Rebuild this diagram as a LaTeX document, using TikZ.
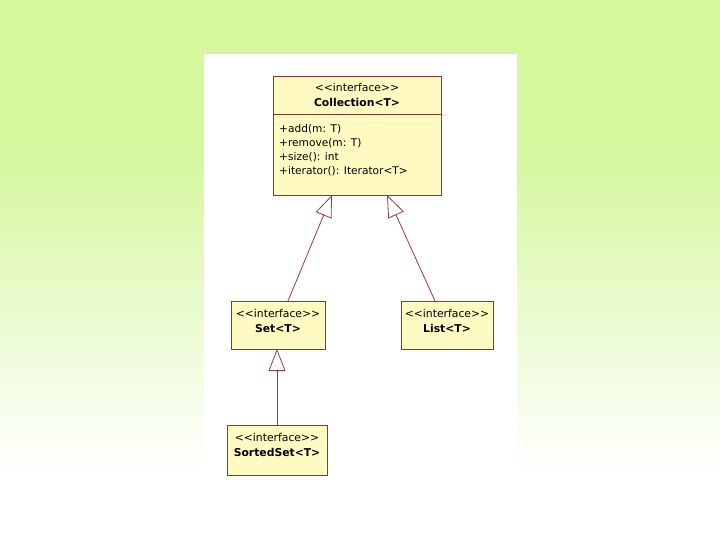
\documentclass[tikz,border=0pt]{standalone}
\usepackage{fontspec}
\setmainfont{DejaVu Sans}[Ligatures=TeXOff]
\usepackage{tikz}
\usetikzlibrary{positioning,arrows.meta,calc}
\definecolor{bggreen} {HTML}{D5F79D}
\definecolor{boxfill} {HTML}{FFFAC2}
\definecolor{boxline} {HTML}{8A3A2C}
\definecolor{genline} {HTML}{9A3A48}
\tikzset{
  % --- nodes
  iface/.style = {rectangle, draw=boxline, fill=boxfill, line width=0.9pt,
                  inner sep=0pt, outer sep=0pt},
  stereo/.style= {align=center, inner sep=0pt,
                  font=\fontsize{10.8}{15}\selectfont},
  ops/.style   = {align=left, inner sep=0pt,
                  font=\fontsize{10.6}{14}\selectfont},
  % --- edges
  gen/.style   = {draw=genline, line width=0.8pt,
                  -{Triangle[length=22pt,width=17pt,fill=white]}},
}

\begin{document}
\begin{tikzpicture}[x=1pt,y=-1pt]
  \useasboundingbox (0,0) rectangle (720,540);
  % background
  \fill[bggreen] (0,0) rectangle (720,150);
  \shade[top color=bggreen, bottom color=white] (0,150) rectangle (720,470);
  \fill[white] (0,470) rectangle (720,540);
  \fill[white] (204,54) rectangle (517,498);

  \node[iface, minimum width=168pt, minimum height=38pt] (colh) at (357,95) {};
  \node[iface, minimum width=168pt, minimum height=81pt] (colb) at (357,154.5) {};
  \node[iface, minimum width=94pt, minimum height=48pt] (set) at (278,325) {};
  \node[iface, minimum width=92pt, minimum height=48pt] (list) at (447,325) {};
  \node[iface, minimum width=100pt, minimum height=50pt] (sset) at (277,450) {};

  \node[stereo, below=7pt of colh.north] (colt)
    {<<interface>>\\\textbf{Collection<T>}};
  \node[ops, below right=10pt and 6pt of colb.north west] (colops)
    {+add(m: T)\\+remove(m: T)\\+size(): int\\+iterator(): Iterator<T>};
  \node[stereo, below=8pt of set.north] (sett) {<<interface>>\\\textbf{Set<T>}};
  \node[stereo, below=8pt of list.north] (listt) {<<interface>>\\\textbf{List<T>}};
  \node[stereo, below=8pt of sset.north] (ssett) {<<interface>>\\\textbf{SortedSet<T>}};

  \draw[gen] ([xshift=10pt]set.north) -- ([xshift=-25pt]colb.south);
  \draw[gen] ([xshift=-12pt]list.north) -- ([xshift=30pt]colb.south);
  \draw[gen] (sset.north) -- ([xshift=-1pt]set.south);
\end{tikzpicture}
\end{document}
